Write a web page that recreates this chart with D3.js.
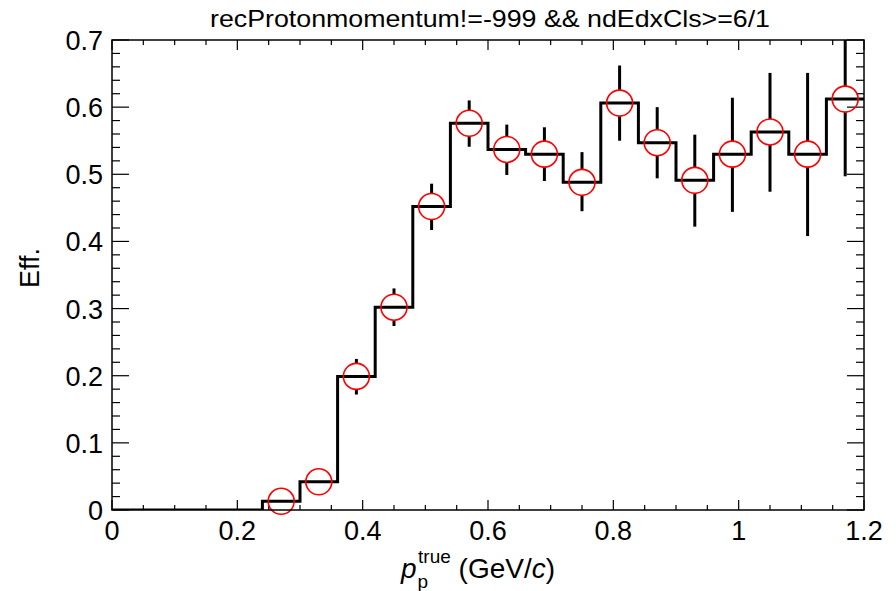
<!DOCTYPE html>
<html>
<head>
<meta charset="utf-8">
<script src="https://cdn.jsdelivr.net/npm/d3@7"></script>
<style>
  body { margin: 0; background: #fff; }
  text { font-family: "Liberation Sans", Arial, sans-serif; fill: #000; }
</style>
</head>
<body>
<div id="chart"></div>
<script>
// bin centres (bin width 0.06) and efficiency values
const binCenters = [0.03, 0.09, 0.15, 0.21, 0.27, 0.33, 0.39, 0.45, 0.51, 0.57,
                    0.63, 0.69, 0.75, 0.81, 0.87, 0.93, 0.99, 1.05, 1.11, 1.17];
const effValues  = [0, 0, 0, 0, 0.013, 0.042, 0.199, 0.302, 0.452, 0.576,
                    0.537, 0.530, 0.488, 0.606, 0.547, 0.491, 0.530, 0.563, 0.530, 0.612];
const errLow     = [0, 0, 0, 0, 0.006, 0.010, 0.027, 0.028, 0.035, 0.035,
                    0.038, 0.040, 0.043, 0.056, 0.053, 0.069, 0.086, 0.089, 0.122, 0.115];
const errHigh    = [0, 0, 0, 0, 0.008, 0.012, 0.026, 0.028, 0.034, 0.034,
                    0.037, 0.040, 0.045, 0.056, 0.053, 0.068, 0.084, 0.088, 0.121, 0.120];
const binWidth = 0.06;
const xLabels = [0, 0.2, 0.4, 0.6, 0.8, 1, 1.2];
const yLabels = [0, 0.1, 0.2, 0.3, 0.4, 0.5, 0.6, 0.7];
const title = "recProtonmomentum!=-999 && ndEdxCls>=6/1";

const width = 896, height = 591;
const margin = { top: 40, right: 32, bottom: 81, left: 112 };
const x0 = margin.left, x1 = width - margin.right;
const y0 = height - margin.bottom, y1 = margin.top;

const svg = d3.select("#chart").append("svg")
  .attr("width", width).attr("height", height);

const x = d3.scaleLinear().domain([0, 1.2]).range([x0, x1]);
const y = d3.scaleLinear().domain([0, 0.7]).range([y0, y1]);

svg.append("clipPath").attr("id", "clip")
  .append("rect").attr("x", x0).attr("y", y1).attr("width", x1 - x0).attr("height", y0 - y1);

const data = binCenters.map((c, i) => ({ c, v: effValues[i], lo: errLow[i], hi: errHigh[i] }));

// ticks
const tickG = svg.append("g").attr("stroke", "#000").attr("stroke-width", 1.2);
const xMinor = d3.range(0, 24.5).map(i => i * 0.05);
xMinor.forEach(t => {
  const major = Math.abs(t / 0.2 - Math.round(t / 0.2)) < 1e-6;
  const len = major ? 10 : 5;
  tickG.append("line").attr("x1", x(t)).attr("x2", x(t)).attr("y1", y0).attr("y2", y0 - len);
  tickG.append("line").attr("x1", x(t)).attr("x2", x(t)).attr("y1", y1).attr("y2", y1 + len);
});
const yMinor = d3.range(0, 35.5).map(i => i * 0.02);
yMinor.forEach(t => {
  const major = Math.abs(t / 0.1 - Math.round(t / 0.1)) < 1e-6;
  const len = major ? 17 : 8;
  tickG.append("line").attr("y1", y(t)).attr("y2", y(t)).attr("x1", x0).attr("x2", x0 + len);
  tickG.append("line").attr("y1", y(t)).attr("y2", y(t)).attr("x1", x1).attr("x2", x1 - len);
});

// tick labels
svg.selectAll(".xl").data(xLabels).enter().append("text")
  .attr("x", d => x(d)).attr("y", y0 + 30)
  .attr("text-anchor", "middle").attr("font-size", 27)
  .text(d => d);
svg.selectAll(".yl").data(yLabels).enter().append("text")
  .attr("x", x0 - 9).attr("y", d => y(d) + 10)
  .attr("text-anchor", "end").attr("font-size", 27)
  .text(d => d);

// histogram step line
const plot = svg.append("g").attr("clip-path", "url(#clip)");
const stepPts = [];
data.forEach(d => {
  stepPts.push([d.c - binWidth / 2, d.v]);
  stepPts.push([d.c + binWidth / 2, d.v]);
});
plot.append("path")
  .attr("d", d3.line().x(p => x(p[0])).y(p => y(p[1]))(stepPts))
  .attr("fill", "none").attr("stroke", "#000").attr("stroke-width", 3);

// error bars with gap around marker
const r = 13;
const pts = data.filter(d => d.v > 0);
pts.forEach(d => {
  const cx = x(d.c), cy = y(d.v);
  const top = y(d.v + d.hi), bot = y(d.v - d.lo);
  if (cy - r > top) plot.append("line").attr("x1", cx).attr("x2", cx).attr("y1", cy - r).attr("y2", top)
    .attr("stroke", "#000").attr("stroke-width", 3);
  if (bot > cy + r) plot.append("line").attr("x1", cx).attr("x2", cx).attr("y1", cy + r).attr("y2", bot)
    .attr("stroke", "#000").attr("stroke-width", 3);
});

// markers
svg.selectAll(".mk").data(pts).enter().append("circle")
  .attr("cx", d => x(d.c)).attr("cy", d => y(d.v)).attr("r", r)
  .attr("fill", "none").attr("stroke", "#ff0000").attr("stroke-width", 1.6);

// frame
svg.append("rect").attr("x", x0).attr("y", y1).attr("width", x1 - x0).attr("height", y0 - y1)
  .attr("fill", "none").attr("stroke", "#000").attr("stroke-width", 1.5);

// titles
svg.append("text").attr("x", 490).attr("y", 27).attr("text-anchor", "middle")
  .attr("font-size", 24).attr("textLength", 560).attr("lengthAdjust", "spacingAndGlyphs")
  .text(title);

svg.append("text").attr("transform", `translate(39,268) rotate(-90)`)
  .attr("text-anchor", "middle").attr("font-size", 27).text("Eff.");

const xt = svg.append("text").attr("x", 478).attr("y", 578).attr("text-anchor", "middle").attr("font-size", 28);
xt.append("tspan").attr("font-style", "italic").text("p");
xt.append("tspan").attr("font-size", 19).attr("dy", 10).attr("dx", 1).text("p");
xt.append("tspan").attr("font-size", 19).attr("dy", -25).attr("dx", -10).text("true");
xt.append("tspan").attr("dy", 15).text(" (GeV/");
xt.append("tspan").attr("font-style", "italic").text("c");
xt.append("tspan").text(")");
</script>
</body>
</html>
